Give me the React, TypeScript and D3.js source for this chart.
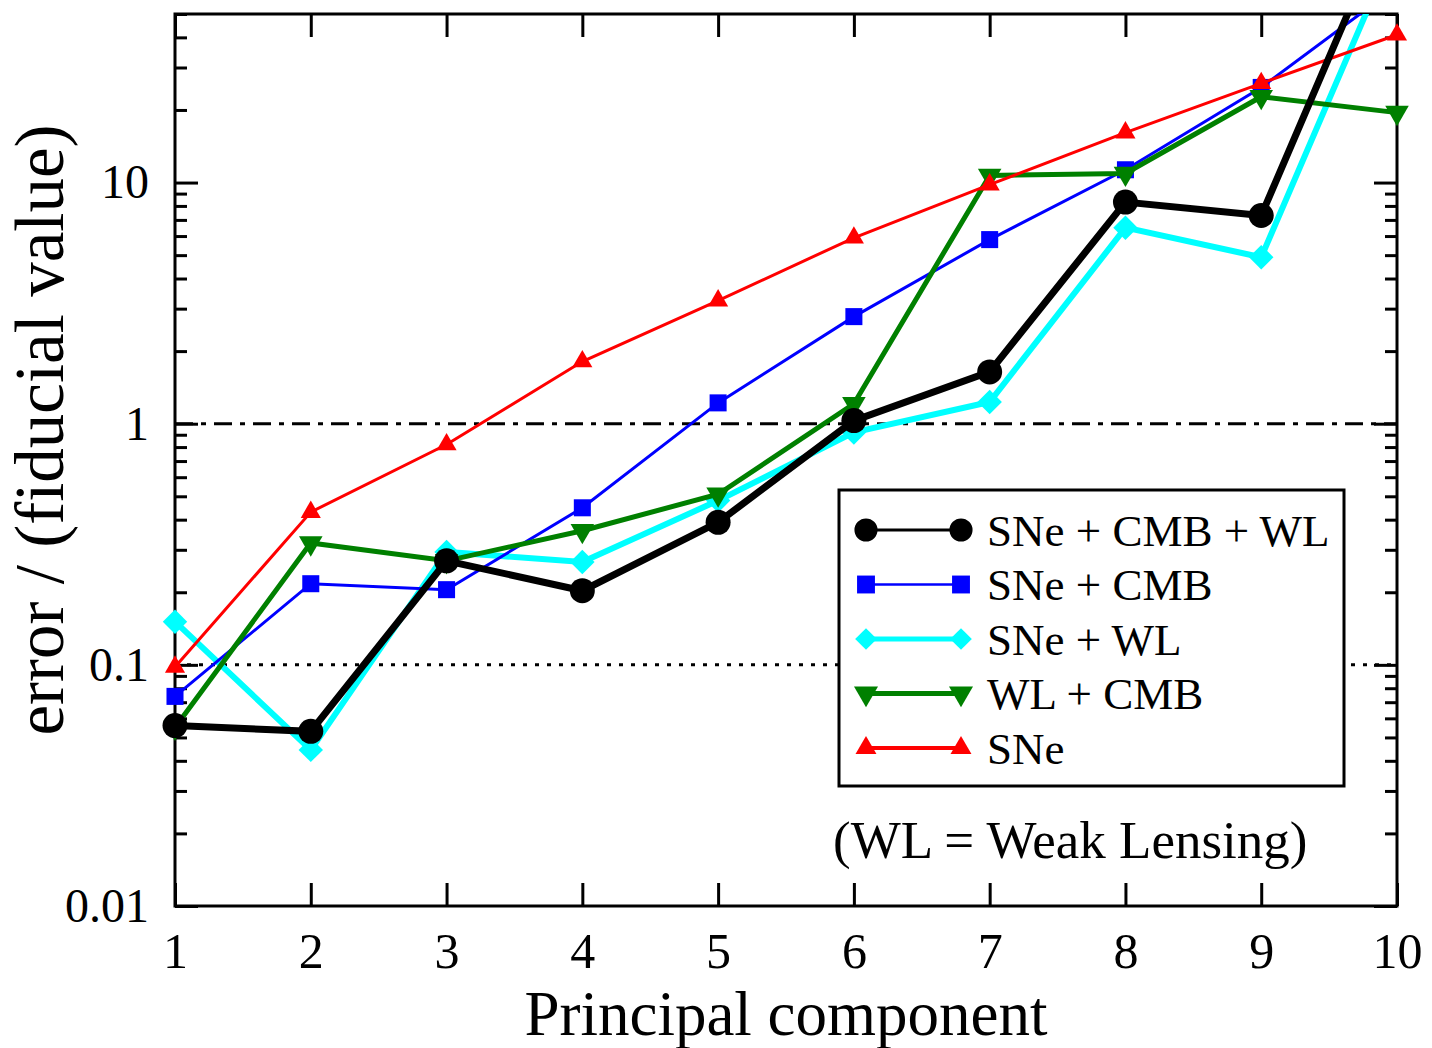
import React, { useEffect, useRef } from "react";
import * as d3 from "d3";

// principal components on the x axis
const components = [1, 2, 3, 4, 5, 6, 7, 8, 9, 10];

// error / fiducial value
const sneCmbWl = [0.056, 0.053, 0.27, 0.203, 0.39, 1.03, 1.64, 8.3, 7.3, 150];
const sneCmb = [0.074, 0.217, 0.205, 0.448, 1.22, 2.78, 5.8, 11.3, 24.8, 65];
const sneWl = [0.151, 0.0444, 0.294, 0.267, 0.48, 0.92, 1.23, 6.5, 4.9, 100];
const wlCmb = [0.055, 0.32, 0.27, 0.36, 0.51, 1.21, 10.7, 10.9, 22.7, 19.5];
const sne = [0.098, 0.43, 0.82, 1.81, 3.24, 5.9, 9.8, 16.1, 25.8, 41];

const seriesNames = ["SNe + CMB + WL", "SNe + CMB", "SNe + WL", "WL + CMB", "SNe"];
const yTickValues = [0.01, 0.1, 1, 10];
const yTickLabels = ["0.01", "0.1", "1", "10"];

const W = 1432;
const H = 1048;
const margin = { top: 14, right: 35, bottom: 142, left: 175 };
const FONT = "'Liberation Serif', 'Times New Roman', serif";

const App = () => {
  const svgRef = useRef<SVGSVGElement>(null);

  useEffect(() => {
    const svg = d3.select(svgRef.current);
    svg.selectAll("*").remove();

    const x = d3
      .scaleLinear()
      .domain([1, 10])
      .range([margin.left, W - margin.right]);
    const y = d3
      .scaleLog()
      .domain([0.01, 50])
      .range([H - margin.bottom, margin.top]);

    const x0 = margin.left;
    const x1 = W - margin.right;
    const y0 = H - margin.bottom;
    const y1 = margin.top;

    // series styling (drawing order bottom -> top)
    const series = [
      { name: seriesNames[2], values: sneWl, color: "#00ffff", width: 6, lw: 5, type: d3.symbolDiamond2, size: 380, lsize: 300, rot: 0 },
      { name: seriesNames[1], values: sneCmb, color: "#0000ff", width: 3, lw: 2.5, type: d3.symbolSquare, size: 290, lsize: 320, rot: 0 },
      { name: seriesNames[3], values: wlCmb, color: "#008000", width: 5, lw: 5, type: d3.symbolTriangle, size: 240, lsize: 250, rot: 180 },
      { name: seriesNames[4], values: sne, color: "#ff0000", width: 3, lw: 4, type: d3.symbolTriangle, size: 175, lsize: 190, rot: 0 },
      { name: seriesNames[0], values: sneCmbWl, color: "#000000", width: 7, lw: 3, type: d3.symbolCircle, size: 490, lsize: 420, rot: 0 },
    ];

    // clip vertically only (markers can spill over the side axes)
    svg
      .append("defs")
      .append("clipPath")
      .attr("id", "plot-clip")
      .append("rect")
      .attr("x", 0)
      .attr("y", y1)
      .attr("width", W)
      .attr("height", y0 - y1);

    // reference lines at 1 and 0.1
    svg
      .append("line")
      .attr("x1", x0)
      .attr("x2", x1)
      .attr("y1", y(1))
      .attr("y2", y(1))
      .attr("stroke", "#000")
      .attr("stroke-width", 3)
      .attr("stroke-dasharray", "18,8,5,8");
    svg
      .append("line")
      .attr("x1", x0)
      .attr("x2", x1)
      .attr("y1", y(0.1))
      .attr("y2", y(0.1))
      .attr("stroke", "#000")
      .attr("stroke-width", 3)
      .attr("stroke-dasharray", "4,8");

    // axes ticks
    const isMajor = (v) => Math.abs(Math.log10(v) - Math.round(Math.log10(v))) < 1e-6;
    const minor = y.ticks().filter((v) => !isMajor(v));

    const styleAxis = (g) => {
      g.select(".domain").remove();
      g.selectAll("line").attr("stroke-width", 3);
      g.attr("font-family", FONT).attr("font-size", 48);
      g.selectAll("text").attr("fill", "#000");
    };

    svg
      .append("g")
      .attr("transform", `translate(${x0},0)`)
      .call(
        d3
          .axisLeft(y)
          .tickValues(yTickValues)
          .tickSize(-23)
          .tickPadding(26)
          .tickFormat((d, i) => yTickLabels[i])
      )
      .call(styleAxis);
    svg
      .append("g")
      .attr("transform", `translate(${x0},0)`)
      .call(d3.axisLeft(y).tickValues(minor).tickSize(-12).tickFormat(() => ""))
      .call(styleAxis);
    svg
      .append("g")
      .attr("transform", `translate(${x1},0)`)
      .call(d3.axisRight(y).tickValues(yTickValues).tickSize(-23).tickFormat(() => ""))
      .call(styleAxis);
    svg
      .append("g")
      .attr("transform", `translate(${x1},0)`)
      .call(d3.axisRight(y).tickValues(minor).tickSize(-12).tickFormat(() => ""))
      .call(styleAxis);
    svg
      .append("g")
      .attr("transform", `translate(0,${y0})`)
      .call(
        d3
          .axisBottom(x)
          .tickValues(components)
          .tickSize(-23)
          .tickPadding(26)
          .tickFormat(d3.format("d"))
      )
      .call(styleAxis)
      .call((g) => g.attr("font-size", 50));
    svg
      .append("g")
      .attr("transform", `translate(0,${y1})`)
      .call(d3.axisTop(x).tickValues(components).tickSize(-23).tickFormat(() => ""))
      .call(styleAxis);

    // frame
    svg
      .append("rect")
      .attr("x", x0)
      .attr("y", y1)
      .attr("width", x1 - x0)
      .attr("height", y0 - y1)
      .attr("fill", "none")
      .attr("stroke", "#000")
      .attr("stroke-width", 3);

    // series
    const line = d3
      .line()
      .x((d, i) => x(components[i]))
      .y((d) => y(d));

    const plot = svg.append("g").attr("clip-path", "url(#plot-clip)");
    series.forEach((s) => {
      const g = plot.append("g");
      g.append("path")
        .datum(s.values)
        .attr("d", line)
        .attr("fill", "none")
        .attr("stroke", s.color)
        .attr("stroke-width", s.width)
        .attr("stroke-linejoin", "miter");
      g.selectAll("path.mark")
        .data(s.values)
        .join("path")
        .attr("class", "mark")
        .attr("d", d3.symbol().type(s.type).size(s.size))
        .attr("transform", (d, i) => `translate(${x(components[i])},${y(d)}) rotate(${s.rot})`)
        .attr("fill", s.color);
    });

    // legend
    const legend = svg.append("g");
    legend
      .append("rect")
      .attr("x", 839)
      .attr("y", 490)
      .attr("width", 505)
      .attr("height", 296)
      .attr("fill", "#fff")
      .attr("stroke", "#000")
      .attr("stroke-width", 3);

    const legendOrder = [4, 1, 0, 2, 3];
    legendOrder.forEach((si, row) => {
      const s = series[si];
      const ly = 530 + row * 54.5;
      legend
        .append("line")
        .attr("x1", 866)
        .attr("x2", 961)
        .attr("y1", ly)
        .attr("y2", ly)
        .attr("stroke", s.color)
        .attr("stroke-width", s.lw);
      [866, 961].forEach((lx) => {
        legend
          .append("path")
          .attr("d", d3.symbol().type(s.type).size(s.lsize)())
          .attr("transform", `translate(${lx},${ly}) rotate(${s.rot})`)
          .attr("fill", s.color);
      });
      legend
        .append("text")
        .attr("x", 987)
        .attr("y", ly)
        .attr("dy", "0.35em")
        .attr("font-family", FONT)
        .attr("font-size", 45)
        .text(s.name);
    });

    svg
      .append("text")
      .attr("x", 833)
      .attr("y", 858)
      .attr("font-family", FONT)
      .attr("font-size", 53)
      .text("(WL = Weak Lensing)");

    // axis titles
    svg
      .append("text")
      .attr("x", (x0 + x1) / 2)
      .attr("y", 1035)
      .attr("text-anchor", "middle")
      .attr("font-family", FONT)
      .attr("font-size", 63)
      .text("Principal component");
    svg
      .append("text")
      .attr("transform", `translate(63,${430}) rotate(-90)`)
      .attr("text-anchor", "middle")
      .attr("font-family", FONT)
      .attr("font-size", 69)
      .text("error / (fiducial value)");
  }, []);

  return (
    <svg
      ref={svgRef}
      width={W}
      height={H}
      style={{ position: "absolute", left: 0, top: 0, background: "#fff" }}
    />
  );
};

export default App;
